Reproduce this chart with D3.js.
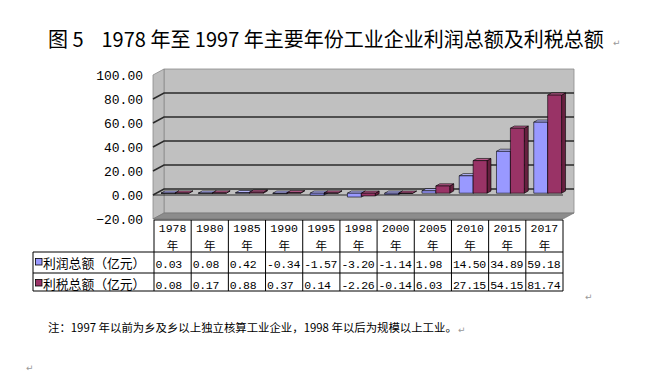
<!DOCTYPE html>
<html><head><meta charset="utf-8">
<script src="https://cdn.jsdelivr.net/npm/d3@7"></script>
<style>body{margin:0;background:#fff}svg{display:block}</style>
</head><body>
<svg id="c" width="656" height="372"></svg>
<script>
const categories = ["1978","1980","1985","1990","1995","1998","2000","2005","2010","2015","2017"];
const seriesNames = ["利润总额（亿元）","利税总额（亿元）"];
const profit = [0.03,0.08,0.42,-0.34,-1.57,-3.20,-1.14,1.98,14.50,34.89,59.18];
const profitTax = [0.08,0.17,0.88,0.37,0.14,-2.26,-0.14,6.03,27.15,54.15,81.74];
const profitLabels = ["0.03","0.08","0.42","-0.34","-1.57","-3.20","-1.14","1.98","14.50","34.89","59.18"];
const taxLabels = ["0.08","0.17","0.88","0.37","0.14","-2.26","-0.14","6.03","27.15","54.15","81.74"];
const yTicks = [-20,0,20,40,60,80,100];
const title = "图 5\u00a0\u00a0\u00a0 1978 年至 1997 年主要年份工业企业利润总额及利税总额";
const note = "注：1997 年以前为乡及乡以上独立核算工业企业，1998 年以后为规模以上工业。";

const svg = d3.select("#c");
const colors = [{front:"#9999FF", top:"#B8B8FF", side:"#6B6BC8"},{front:"#993366", top:"#B85A8A", side:"#66203F"}];
const series = [profit, profitTax];

// geometry
const x0 = 153, x1 = 563;
const DX = 11, DY = -6; // box depth
const y = d3.scaleLinear().domain([-20,100]).range([219,75]);
const x = d3.scaleBand().domain(categories).range([x0,x1]).paddingInner(0).paddingOuter(0);
const xs = d3.scaleBand().domain([0,1]).range([0,x.bandwidth()]).paddingOuter(0.34).paddingInner(0);
const pt = (px,py,f) => [px+f*DX, py+f*DY];
const poly = pts => pts.map(p=>p.join(",")).join(" ");

// back wall
svg.append("polygon").attr("points", poly([pt(x0,y(100),1),pt(x1,y(100),1),pt(x1,y(-20),1),pt(x0,y(-20),1)]))
  .attr("fill","#C0C0C0").attr("stroke","#8a8a8a").attr("stroke-width",0.8);
// side wall
svg.append("polygon").attr("points", poly([pt(x0,y(100),0),pt(x0,y(100),1),pt(x0,y(-20),1),pt(x0,y(-20),0)]))
  .attr("fill","#BDBDBD").attr("stroke","#8a8a8a").attr("stroke-width",0.8);
// floor
svg.append("polygon").attr("points", poly([pt(x0,y(-20),0),pt(x0,y(-20),1),pt(x1,y(-20),1),pt(x1,y(-20),0)]))
  .attr("fill","#8C8C8C").attr("stroke","#707070").attr("stroke-width",0.6);

// gridlines
yTicks.filter(v=>v>-20 && v<100).forEach(v=>{
  svg.append("polyline").attr("points", poly([pt(x0,y(v),0),pt(x0,y(v),1),pt(x1,y(v),1)]))
    .attr("fill","none").attr("stroke","#2a2a2a").attr("stroke-width",1.5);
});
// zero plane front line
svg.append("line").attr("x1",x0).attr("x2",x1).attr("y1",y(0)).attr("y2",y(0))
  .attr("stroke","#2a2a2a").attr("stroke-width",1.2);

// y labels
svg.append("g").selectAll("text").data(yTicks).join("text")
  .attr("x",143).attr("y",d=>y(d)+4.5).attr("text-anchor","end")
  .attr("font-family","Liberation Mono, monospace").attr("font-size",13).attr("fill","#000")
  .text(d=>d3.format(".2f")(d));

// bars
const fF = 0.3, fB = 0.66;
categories.forEach((c,i)=>{
  series.forEach((s,k)=>{
    const v = s[i];
    const bx = x(c)+xs(k), bw = xs.bandwidth();
    const yt = y(Math.max(v,0)), yb = y(Math.min(v,0));
    const col = colors[k];
    const g = svg.append("g").attr("stroke","#000").attr("stroke-width",0.6).attr("stroke-linejoin","round");
    g.append("polygon").attr("points",poly([pt(bx+bw,yt,fF),pt(bx+bw,yt,fB),pt(bx+bw,yb,fB),pt(bx+bw,yb,fF)])).attr("fill",col.side);
    g.append("polygon").attr("points",poly([pt(bx,yt,fF),pt(bx,yt,fB),pt(bx+bw,yt,fB),pt(bx+bw,yt,fF)])).attr("fill",col.top);
    g.append("polygon").attr("points",poly([pt(bx,yt,fF),pt(bx+bw,yt,fF),pt(bx+bw,yb,fF),pt(bx,yb,fF)])).attr("fill",col.front);
  });
});

// data table
const tx = d3.scaleBand().domain(categories).range([154,563]);
const rowY = [220,252,273,291];
const tg = svg.append("g");
const line = (a,b,c,d)=>tg.append("line").attr("x1",a).attr("y1",b).attr("x2",c).attr("y2",d).attr("stroke","#000").attr("stroke-width",1);
line(154,rowY[0],563,rowY[0]);
line(33,rowY[1],563,rowY[1]);
line(33,rowY[2],563,rowY[2]);
line(33,rowY[3],563,rowY[3]);
line(33,rowY[1],33,rowY[3]);
categories.forEach(c=>line(tx(c),rowY[0],tx(c),rowY[3]));
line(563,rowY[0],563,rowY[3]);

const mono = "Liberation Mono, monospace";
const cjk = "Noto Sans CJK SC, sans-serif";
categories.forEach(c=>{
  const cx = tx(c)+tx.bandwidth()/2;
  tg.append("text").attr("x",cx).attr("y",232).attr("text-anchor","middle").attr("font-family",mono).attr("font-size",11.5).text(c);
  tg.append("text").attr("x",cx).attr("y",249.5).attr("text-anchor","middle").attr("font-family",cjk).attr("font-size",11.5).text("年");
});
[profitLabels, taxLabels].forEach((arr,r)=>{
  categories.forEach((c,i)=>{
    tg.append("text").attr("x",tx(c)+1.5).attr("y",rowY[r+1]+15.5).attr("font-family",mono).attr("font-size",11.5).attr("letter-spacing",-0.3).text(arr[i]);
  });
  tg.append("rect").attr("x",35.5).attr("y",rowY[r+1]+6.5).attr("width",6.5).attr("height",6.5)
    .attr("fill",colors[r].front).attr("stroke","#000").attr("stroke-width",0.8);
  tg.append("text").attr("x",43).attr("y",rowY[r+1]+15.5).attr("font-family",cjk).attr("font-size",12.8).text(seriesNames[r]);
});

// title & note
svg.append("text").attr("x",48).attr("y",47).attr("font-family",cjk).attr("font-weight",400).attr("font-size",20).attr("fill","#000").text(title);
svg.append("text").attr("x",48).attr("y",332).attr("font-family",cjk).attr("font-size",11.4).attr("fill","#000").text(note);

// paragraph marks
const marks = [[613,46],[458,333],[585,300],[26,371]];
svg.append("g").selectAll("text").data(marks).join("text").attr("x",d=>d[0]).attr("y",d=>d[1])
  .attr("font-family","DejaVu Sans").attr("font-size",9).attr("fill","#999").text("↵");
</script>
</body></html>
